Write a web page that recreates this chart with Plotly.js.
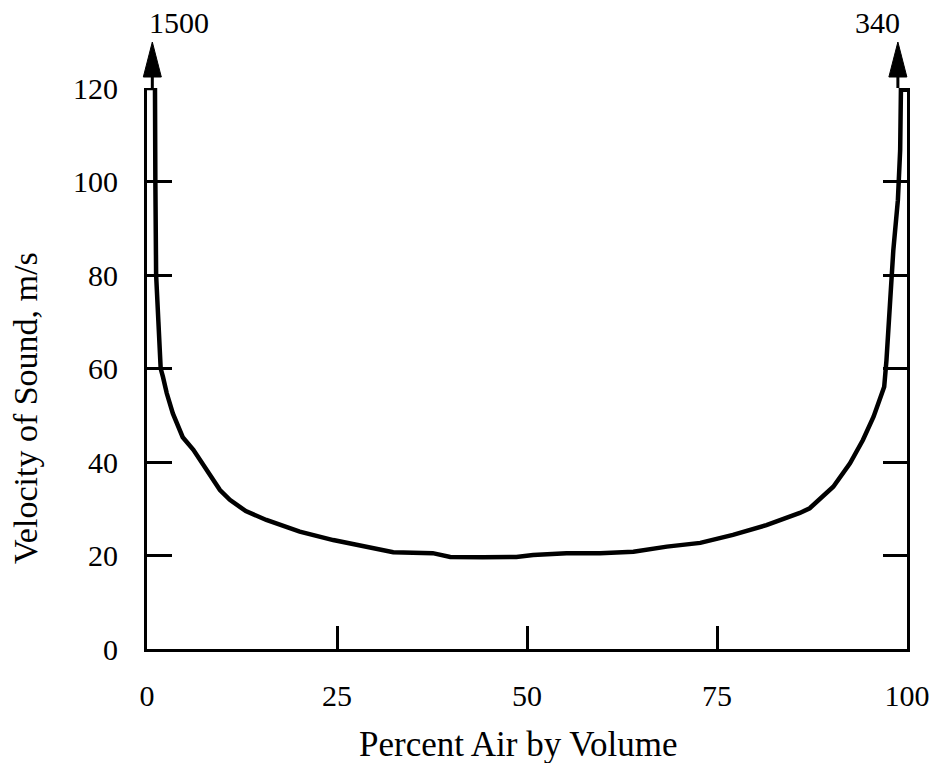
<!DOCTYPE html>
<html>
<head>
<meta charset="utf-8">
<script src="https://cdn.plot.ly/plotly-3.0.1.min.js"></script>
<style>html,body{margin:0;padding:0;background:#fff;}#chart{width:932px;height:763px;}</style>
</head>
<body>
<div id="chart"></div>
<script>
// Percent air by volume (x) and velocity of sound in m/s (y)
var percentAir = [0, 1.05, 1.1, 1.2, 1.5, 1.8, 2.1, 2.6, 3.4, 4.7, 6.1, 7.9, 9.6, 10.9, 13.0, 15.7, 20.1, 24.5, 28.9, 32.4, 37.6, 39.9, 44.2, 48.6, 50.8, 55.2, 59.6, 64.0, 68.4, 72.8, 77.1, 81.5, 85.9, 87.2, 90.3, 92.5, 94.2, 95.6, 96.7, 97.0, 97.3, 98.0, 98.2, 98.8, 99.1, 99.2, 100];
var velocity   = [120, 120, 100, 80, 70, 60, 58.2, 54.7, 50.4, 45.3, 42.6, 38.3, 34.0, 31.9, 29.5, 27.6, 25.1, 23.3, 21.9, 20.7, 20.5, 19.7, 19.6, 19.7, 20.1, 20.5, 20.5, 20.8, 21.9, 22.7, 24.4, 26.5, 29.1, 30.1, 34.7, 39.7, 44.7, 49.7, 54.7, 56.1, 61.8, 79.6, 85.3, 96.0, 106.7, 119.6, 119.6];

var xTickVals = [0, 25, 50, 75, 100];
var xTickText = ['0', '25', '50', '75', '100'];
var yTickVals = [0, 20, 40, 60, 80, 100, 120];
var yTickText = ['0', '20', '40', '60', '80', '100', '120'];

// off-scale end values shown with arrows
var arrowX = [0.7, 98.8];
var arrowLabels = ['1500', '340'];

var xTitle = 'Percent Air by Volume';
var yTitle = 'Velocity of Sound, m/s';

var xMin = 0, xMax = 100, yMin = 0, yMax = 120;

var serif = '"Liberation Serif", "Times New Roman", serif';

var traces = [
  {
    x: percentAir, y: velocity, type: 'scatter', mode: 'lines',
    line: {color: '#000', width: 4.5}, hoverinfo: 'skip', showlegend: false, cliponaxis: false
  },
  {
    x: [xMin], y: [yMin], yaxis: 'y2', type: 'scatter', mode: 'markers',
    marker: {opacity: 0}, hoverinfo: 'skip', showlegend: false
  }
];

var shapes = [];
var annotations = [];
arrowX.forEach(function (ax, i) {
  var fx = (ax - xMin) / (xMax - xMin);
  shapes.push({
    type: 'line', xref: 'paper', yref: 'paper', xsizemode: 'pixel', ysizemode: 'pixel',
    xanchor: fx, yanchor: 1, x0: 0, x1: 0, y0: 0, y1: 14,
    line: {color: '#000', width: 3}
  });
  shapes.push({
    type: 'path', xref: 'paper', yref: 'paper', xsizemode: 'pixel', ysizemode: 'pixel',
    xanchor: fx, yanchor: 1,
    path: 'M -9,11 L 9,11 L 0,46 Z',
    fillcolor: '#000', line: {color: '#000', width: 1}
  });
  annotations.push({
    xref: 'paper', yref: 'paper', x: fx, y: 1,
    xanchor: i === 0 ? 'left' : 'right', yanchor: 'bottom',
    xshift: i === 0 ? -5 : 4, yshift: 47,
    text: arrowLabels[i], showarrow: false,
    font: {family: serif, size: 30, color: '#000'}
  });
});

// axis titles placed as annotations, matching their offset positions in the figure
annotations.push({
  xref: 'paper', yref: 'paper', x: -0.159, y: 0.43,
  xanchor: 'center', yanchor: 'middle', textangle: -90,
  text: yTitle, showarrow: false,
  font: {family: serif, size: 34, color: '#000'}
});
annotations.push({
  xref: 'paper', yref: 'paper', x: 0.489, y: -0.171,
  xanchor: 'center', yanchor: 'middle',
  text: xTitle, showarrow: false,
  font: {family: serif, size: 35, color: '#000'}
});

var layout = {
  width: 932, height: 763,
  paper_bgcolor: '#fff', plot_bgcolor: '#fff',
  margin: {l: 147, r: 25, t: 88, b: 114},
  showlegend: false,
  xaxis: {
    range: [xMin, xMax], showgrid: false, zeroline: false,
    showline: true, linecolor: '#000', linewidth: 3,
    ticks: 'inside', ticklen: 23, tickwidth: 3, tickcolor: '#000',
    tickvals: xTickVals, ticktext: xTickText, ticklabelstandoff: 18,
    tickfont: {family: serif, size: 30, color: '#000'}
  },
  yaxis: {
    range: [yMin, yMax], showgrid: false, zeroline: false,
    showline: true, linecolor: '#000', linewidth: 3,
    ticks: 'inside', ticklen: 25, tickwidth: 3, tickcolor: '#000',
    tickvals: yTickVals, ticktext: yTickText, ticklabelstandoff: 20,
    tickfont: {family: serif, size: 30, color: '#000'}
  },
  yaxis2: {
    range: [yMin, yMax], overlaying: 'y', side: 'right', showgrid: false, zeroline: false,
    showline: true, linecolor: '#000', linewidth: 3,
    ticks: 'inside', ticklen: 24, tickwidth: 3, tickcolor: '#000',
    tickvals: yTickVals, showticklabels: false
  },
  shapes: shapes,
  annotations: annotations
};

Plotly.newPlot('chart', traces, layout, {displayModeBar: false, staticPlot: true});
</script>
</body>
</html>
